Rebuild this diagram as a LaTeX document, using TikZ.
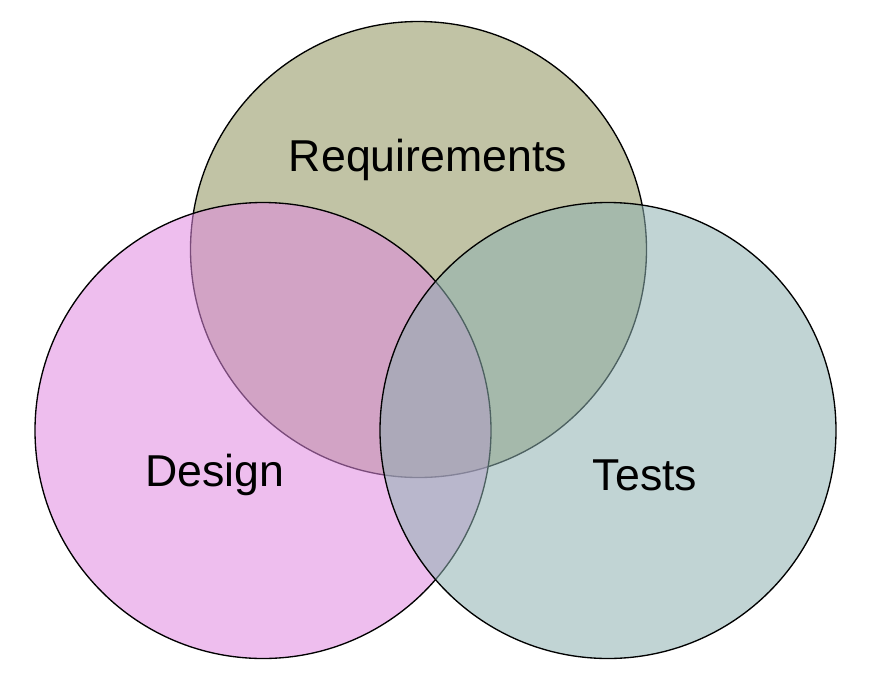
\documentclass[tikz,border=0pt]{standalone}
\usepackage{fontspec}
\setmainfont{Liberation Sans}
\usetikzlibrary{positioning}

\begin{document}
\begin{tikzpicture}[x=0.75pt,y=-0.75pt,line width=1pt]
  \tikzstyle{setcircle}=[circle,draw=black,minimum size=342pt,inner sep=0pt,fill opacity=0.55]
  \tikzstyle{setlabel}=[font=\fontsize{33.5}{40}\selectfont,text=black]

  \useasboundingbox (0,0) rectangle (882,683);

  \node[setcircle,fill={rgb,255:red,142;green,146;blue,91}]  (req) at (418.5,249.5) {};
  \node[setcircle,fill={rgb,255:red,224;green,137;blue,224}] (des) at (263,430.5)   {};
  \node[setcircle,fill={rgb,255:red,142;green,177;blue,177}] (tst) at (608,430.5)   {};

  \node[setlabel] (reqlabel) at (428,160) {Requirements};
  \node[setlabel] (deslabel) at (215,475) {Design};
  \node[setlabel] (tstlabel) at (645,475) {Tests};
\end{tikzpicture}
\end{document}
